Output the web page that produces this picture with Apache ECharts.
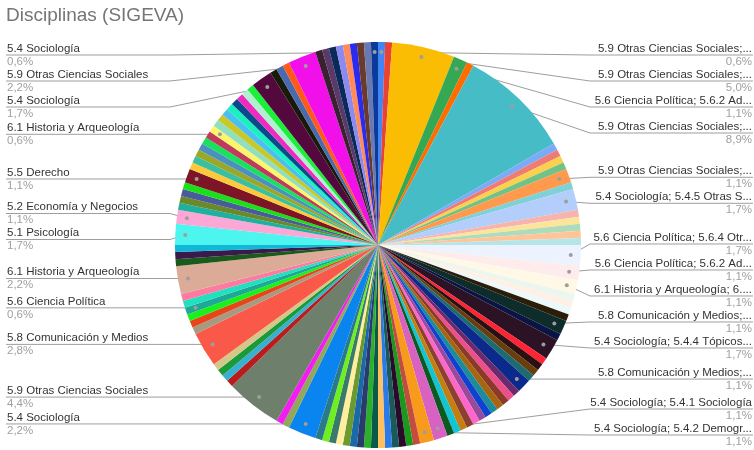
<!DOCTYPE html>
<html>
<head>
<meta charset="utf-8">
<script src="https://cdn.jsdelivr.net/npm/echarts@6/dist/echarts.min.js"></script>
<style>html,body{margin:0;padding:0;background:#fff}#c{width:754px;height:450px}</style>
</head>
<body>
<div id="c"></div>
<script>
// ---- data (clockwise from 12 o'clock) ----
const categories = [
 // 0-5
 "5.9 Otras Ciencias Sociales;...","5.9 Otras Ciencias Sociales","5.9 Otras Ciencias Sociales;...","5.6 Ciencia Política; 5.6.2 Ad...","5.6 Ciencia Política","5.9 Otras Ciencias Sociales;...",
 // 6-11
 "5.4 Sociología","5.8 Comunicación y Medios","5.1 Psicología","5.2 Economía y Negocios","5.9 Otras Ciencias Sociales;...","5.5 Derecho",
 // 12-17
 "5.4 Sociología; 5.4.5 Otras S...","6.1 Historia y Arqueología","5.3 Educación","5.7 Geografía Social","5.4 Sociología","5.9 Otras Ciencias Sociales",
 // 18-23
 "5.6 Ciencia Política; 5.6.4 Otr...","5.6 Ciencia Política; 5.6.2 Ad...","6.1 Historia y Arqueología; 6....","5.8 Comunicación y Medios","5.2 Economía y Negocios","5.1 Psicología",
 // 24-29
 "5.4 Sociología","5.8 Comunicación y Medios;...","5.9 Otras Ciencias Sociales","5.4 Sociología; 5.4.4 Tópicos...","5.6 Ciencia Política","5.3 Educación",
 // 30-35
 "5.5 Derecho","5.7 Geografía Social","5.8 Comunicación y Medios;...","5.4 Sociología","5.9 Otras Ciencias Sociales","6.1 Historia y Arqueología",
 // 36-41
 "5.2 Economía y Negocios","5.1 Psicología","5.6 Ciencia Política","5.8 Comunicación y Medios","5.4 Sociología","5.9 Otras Ciencias Sociales",
 // 42-47
 "5.3 Educación","5.5 Derecho","5.7 Geografía Social","5.4 Sociología; 5.4.1 Sociología","5.4 Sociología; 5.4.2 Demogr...","5.9 Otras Ciencias Sociales",
 // 48-53
 "5.4 Sociología","5.6 Ciencia Política","5.8 Comunicación y Medios","6.1 Historia y Arqueología","5.2 Economía y Negocios","5.1 Psicología",
 // 54-59
 "5.3 Educación","5.5 Derecho","5.7 Geografía Social","5.9 Otras Ciencias Sociales","5.4 Sociología","5.6 Ciencia Política",
 // 60-65
 "5.8 Comunicación y Medios","6.1 Historia y Arqueología","5.4 Sociología","5.2 Economía y Negocios","5.1 Psicología","5.9 Otras Ciencias Sociales",
 // 66-71
 "5.3 Educación","5.5 Derecho","5.7 Geografía Social","5.4 Sociología","5.8 Comunicación y Medios","5.9 Otras Ciencias Sociales",
 // 72-77
 "5.6 Ciencia Política","6.1 Historia y Arqueología","5.6 Ciencia Política","5.2 Economía y Negocios","5.1 Psicología","6.1 Historia y Arqueología",
 // 78-83
 "5.3 Educación","5.5 Derecho","5.7 Geografía Social","5.1 Psicología","5.2 Economía y Negocios","5.4 Sociología",
 // 84-89
 "5.9 Otras Ciencias Sociales","5.6 Ciencia Política","5.8 Comunicación y Medios","5.5 Derecho","6.1 Historia y Arqueología","5.3 Educación",
 // 90-95
 "5.7 Geografía Social","5.4 Sociología","5.9 Otras Ciencias Sociales","5.6 Ciencia Política","6.1 Historia y Arqueología","5.8 Comunicación y Medios",
 // 96-101
 "5.2 Economía y Negocios","5.1 Psicología","5.3 Educación","5.5 Derecho","5.7 Geografía Social","5.4 Sociología",
 // 102-107
 "5.9 Otras Ciencias Sociales","5.4 Sociología","5.8 Comunicación y Medios","6.1 Historia y Arqueología","5.6 Ciencia Política","5.9 Otras Ciencias Sociales",
 // 108-113
 "5.1 Psicología","5.3 Educación","5.5 Derecho","5.7 Geografía Social","5.4 Sociología","5.9 Otras Ciencias Sociales",
 // 114-116
 "5.6 Ciencia Política","5.8 Comunicación y Medios","5.4 Sociología"
];
const values = [
 1,1,9,2,1,16, 1,1,1,1,2,1, 3,1,1,1,1,1, 3,2,2,1,1,1,
 1,2,1,3,1,1, 1,1,2,
 1,1,1,1,1,1,1,1,1,1,1,1,
 2,2,
 1,1,1,1,1,1,1,1,1,1,1,1,1,1,1,
 4,1,1,8, 1,1,1,1, 5, 1,1,1, 1,1,1, 4, 1,1,1, 3,2, 1,1,1,1, 2,
 1,1,1,1,1,1, 1, 1,1,1,1,1,1,1,1, 3, 1,1,1, 4,
 1,1,1,1,1,1,1,1, 1
];
const sliceColors = [
 "#4285f4","#ea4335","#fbbc04","#34a853","#ff6d01","#46bdc6",
 "#7baaf7","#f07b72","#fcd04f","#71c287","#ff994d","#7ed1d7",
 "#b3cefb","#f7b4ae","#fde49b","#aedcba","#ffc599","#b5e5e8",
 "#ecf3fe","#fdeceb","#fff8e6","#ebf6ee","#fff0e6","#ecf8f9",
 "#2b1d08","#0e2c2a","#0a1545","#2b1325","#ff2433","#2a1010",
 "#6a3d0e","#1b6b73","#0b2a8c",
 "#6b2a6b","#ec4f8a","#8b3a28","#a8650f","#1a8c9a","#0f42d0",
 "#9a4a9a","#ff66cc","#8b4030","#c47f10","#12c4d4","#0b5a22",
 "#d862c2","#f89b1c",
 "#c44c3e","#1a9a1a","#2a0a2a","#1a5a5a","#2a7ae8","#ffc060",
 "#0a5a4a","#2ab02a","#2a3a6a","#1a6aaa","#6a9a30","#ffeea0",
 "#3a7a6a","#6ef020","#2a7a8a",
 "#0a84ee","#8fa85a","#f21ef0","#6e806c",
 "#b81c1c","#3ab0d0","#1a9a3a","#d4c888",
 "#fa5848",
 "#a89a80","#e8461a","#1af01a",
 "#1ea896","#20e0c0","#ff7aa0",
 "#dcab97",
 "#1a5a1a","#3a1a4a","#10b8d8",
 "#4cf5ee","#fca7d6",
 "#20b0a0","#6a8a2a","#4a5a9a","#1ae01a",
 "#7d1526",
 "#ffc83a","#3ac0a0","#9aa82a","#4a90c0","#1ae060","#c03a5a",
 "#fef56a",
 "#90e0c0","#c8c828","#4ac0f0","#1af0c0","#0a4a8a","#f02ac0","#b0f0d0","#1af03a",
 "#54093e",
 "#1a1a0a","#4a6ab0","#ff5a1a",
 "#f210ea",
 "#3a2030","#5a3a6a","#0a2a5a","#8a8af0","#ff8a5a","#2a2af0","#6a3a2a","#6a7ab0",
 "#0a3a9a"
];
const labeledSlices = [0,2,3,5,10,12,18,19,20,25,27,32,45,46,62,65,70,74,77,81,82,87,94,103,107,116];
const titleText = "Disciplinas (SIGEVA)";

// ---- layout ----
const W = 754, H = 450;
const BOX_L = 4, BOX_T = 42;
const CX = 378, CY = 245, R = 203, ANCHOR_R = 193;
const LABEL_H = 26, Y_MIN = BOX_T + 13, Y_MAX = H - 15;
const FONT = '"Liberation Sans", Arial, sans-serif';
const anchors = {};     // dataIndex -> {x, y, right}
let targetY = null;     // dataIndex -> label centre y (2nd pass)

// Google-Sheets-like stacking: labels sit at their anchor height,
// overlapping ones are merged into centred blocks, clamped to the frame.
function stackSide(items) {
  items.sort((a, b) => a.want - b.want);
  let blocks = items.map(it => ({m: [it]}));
  const start = b => {
    const n = b.m.length;
    const mean = b.m.reduce((s, it) => s + it.want, 0) / n;
    let s = mean - (n - 1) * LABEL_H / 2;
    s = Math.min(s, Y_MAX - (n - 1) * LABEL_H);
    s = Math.max(s, Y_MIN);
    return s;
  };
  let changed = true;
  while (changed) {
    changed = false;
    for (let i = 0; i < blocks.length - 1; i++) {
      const a = blocks[i], b = blocks[i + 1];
      if (start(a) + a.m.length * LABEL_H > start(b) + 0.01) {
        blocks.splice(i, 2, {m: a.m.concat(b.m)});
        changed = true;
        break;
      }
    }
  }
  const out = {};
  blocks.forEach(b => {
    const s = start(b);
    b.m.forEach((it, k) => { out[it.idx] = s + k * LABEL_H; });
  });
  return out;
}

const chart = echarts.init(document.getElementById('c'), null, {renderer: 'canvas'});

const data = values.map((v, i) => ({
  name: categories[i],
  value: v,
  itemStyle: {color: sliceColors[i]},
  label: {show: labeledSlices.indexOf(i) >= 0},
  labelLine: {show: labeledSlices.indexOf(i) >= 0}
}));

const option = {
  animation: false,
  backgroundColor: '#ffffff',
  title: {
    text: titleText, left: 6, top: 6, padding: 0,
    textStyle: {fontFamily: FONT, fontSize: 19, fontWeight: 'normal', color: '#757575'}
  },
  series: [{
    type: 'pie',
    left: BOX_L, top: BOX_T, right: -1, bottom: 1,
    center: [CX - BOX_L, CY - BOX_T],
    radius: R,
    startAngle: 90,
    clockwise: true,
    avoidLabelOverlap: true,
    minShowLabelAngle: 0,
    itemStyle: {borderWidth: 0},
    label: {
      position: 'outside',
      alignTo: 'edge',
      edgeDistance: 3,
      overflow: 'none',
      fontFamily: FONT,
      formatter: function (p) {
        return '{n|' + p.name + '}\n{p|' + (Math.round(p.percent * 10) / 10).toFixed(1).replace('.', ',') + '%}';
      },
      rich: {
        n: {fontFamily: FONT, fontSize: 11.5, color: '#333333', lineHeight: 13},
        p: {fontFamily: FONT, fontSize: 11.5, color: '#a0a0a0', lineHeight: 13}
      }
    },
    labelLine: {length: 2, length2: 4, lineStyle: {color: '#9e9e9e', width: 1}},
    labelLayout: function (p) {
      const pts = p.labelLinePoints;
      if (!pts) return {};
      const a = pts[0];
      const dx = a[0] - CX, dy = a[1] - CY;
      const d = Math.hypot(dx, dy) || 1;
      const ax = CX + dx * ANCHOR_R / d, ay = CY + dy * ANCHOR_R / d;
      const right = dx > 0;
      anchors[p.dataIndex] = {x: ax, y: ay, right: right};
      let y = p.labelRect.y + p.labelRect.height / 2;
      const res = {};
      if (targetY && targetY[p.dataIndex] != null) {
        y = targetY[p.dataIndex];
        res.y = y;
      }
      res.labelLinePoints = right
        ? [[ax, ay], [590, y], [753, y]]
        : [[ax, ay], [170, y], [6, y]];
      return res;
    },
    data: data
  }]
};

// pass 1: let the library place slices and give the anchor points
chart.setOption(option);
// compute label heights from anchors
const leftItems = [], rightItems = [];
Object.keys(anchors).forEach(k => {
  const a = anchors[k];
  (a.right ? rightItems : leftItems).push({idx: +k, want: a.y});
});
targetY = Object.assign({}, stackSide(leftItems), stackSide(rightItems));
// pass 2
chart.setOption(option);
const dots = [];
Object.keys(anchors).forEach(k => {
  const pt = anchors[k];
  dots.push({type: 'circle', shape: {cx: pt.x, cy: pt.y, r: 2}, style: {fill: '#9e9e9e'}, z: 100});
});
chart.setOption({graphic: dots});
</script>
</body>
</html>
